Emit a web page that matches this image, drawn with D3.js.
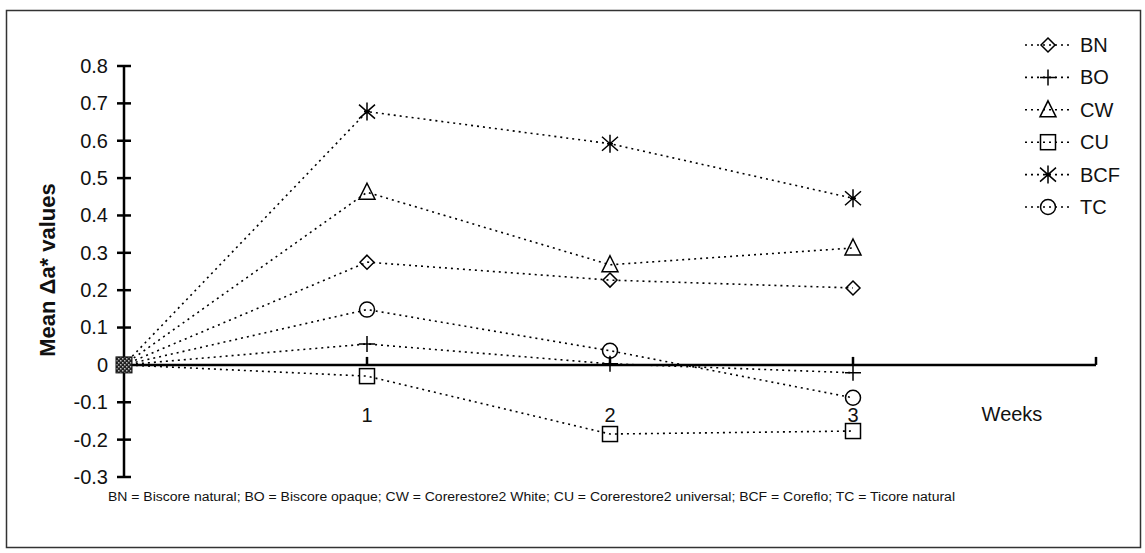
<!DOCTYPE html>
<html>
<head>
<meta charset="utf-8">
<script src="https://cdn.jsdelivr.net/npm/d3@7"></script>
<style>
  html, body { margin: 0; padding: 0; background: #fff; }
  svg { display: block; font-family: "Liberation Sans", Arial, sans-serif; }
</style>
</head>
<body>
<svg id="chart" width="1145" height="553"></svg>
<script>
// Weeks of storage and mean Δa* per material
const weeks = [0, 1, 2, 3];
const weekLabels = ["1", "2", "3"];
const seriesNames = ["BN", "BO", "CW", "CU", "BCF", "TC"];
const BN  = [0, 0.275, 0.227, 0.206];
const BO  = [0, 0.056, 0.003, -0.021];
const CW  = [0, 0.462, 0.268, 0.313];
const CU  = [0, -0.030, -0.185, -0.177];
const BCF = [0, 0.678, 0.592, 0.446];
const TC  = [0, 0.148, 0.038, -0.088];
const yTicks = [0.8, 0.7, 0.6, 0.5, 0.4, 0.3, 0.2, 0.1, 0, -0.1, -0.2, -0.3];
const yTickLabels = ["0.8", "0.7", "0.6", "0.5", "0.4", "0.3", "0.2", "0.1", "0", "-0.1", "-0.2", "-0.3"];
const footnote = "BN = Biscore natural; BO = Biscore opaque; CW = Corerestore2 White; CU = Corerestore2 universal; BCF = Coreflo; TC = Ticore natural";

const seriesValues = { BN, BO, CW, CU, BCF, TC };
const markerOf = { BN: "diamond", BO: "plus", CW: "triangle", CU: "square", BCF: "star", TC: "circle" };

const svg = d3.select("#chart");

// outer frame
svg.append("rect")
  .attr("x", 6.5).attr("y", 10.5).attr("width", 1134).attr("height", 537)
  .attr("fill", "none").attr("stroke", "#333").attr("stroke-width", 1.5);

const x = d3.scaleLinear().domain([0, 4]).range([124, 1096]);
const y = d3.scaleLinear().domain([-0.3, 0.8]).range([477, 66]);

const ink = "#000";
const textInk = "#111";

// marker drawing
function drawMarker(g, type, cx, cy) {
  const s = g.append("g").attr("transform", `translate(${cx},${cy})`)
    .attr("fill", "none").attr("stroke", ink).attr("stroke-width", 1.5);
  switch (type) {
    case "diamond":
      s.append("path").attr("d", "M0,-7L7,0L0,7L-7,0Z"); break;
    case "plus":
      s.append("path").attr("d", "M-8,0H8M0,-8V8"); break;
    case "triangle":
      s.append("path").attr("d", "M0,-9L8,7H-8Z"); break;
    case "square":
      s.append("rect").attr("x", -7.5).attr("y", -7.5).attr("width", 15).attr("height", 15); break;
    case "star":
      s.append("path").attr("d", "M-8,-7L8,7M-8,7L8,-7M0,-9V9M-3,0H3"); break;
    case "circle":
      s.append("circle").attr("r", 7.5); break;
  }
}

// y axis
const yAxis = d3.axisLeft(y).tickValues(yTicks)
  .tickFormat((d, i) => yTickLabels[i])
  .tickSize(0).tickPadding(16);
const ya = svg.append("g").attr("transform", `translate(${x(0)},0)`).call(yAxis);
ya.select(".domain").remove();
ya.selectAll("text").attr("font-size", 20).attr("fill", textInk)
  .attr("font-family", "Liberation Sans, Arial, sans-serif");
svg.append("line")
  .attr("x1", x(0)).attr("x2", x(0)).attr("y1", y(0.8)).attr("y2", y(-0.3))
  .attr("stroke", ink).attr("stroke-width", 2.5);
svg.selectAll(".ytick").data(yTicks).enter().append("line")
  .attr("x1", x(0) - 7).attr("x2", x(0) + 7)
  .attr("y1", d => y(d)).attr("y2", d => y(d))
  .attr("stroke", ink).attr("stroke-width", 2.5);

// x axis along zero
svg.append("line")
  .attr("x1", x(0)).attr("x2", x(4)).attr("y1", y(0)).attr("y2", y(0))
  .attr("stroke", ink).attr("stroke-width", 2.5);
svg.selectAll(".xtick").data([1, 2, 3, 4]).enter().append("line")
  .attr("x1", d => x(d)).attr("x2", d => x(d))
  .attr("y1", y(0) - 8).attr("y2", y(0))
  .attr("stroke", ink).attr("stroke-width", 2.5);
svg.selectAll(".xlab").data(weekLabels).enter().append("text")
  .attr("x", (d, i) => x(weeks[i + 1])).attr("y", 422)
  .attr("text-anchor", "middle").attr("font-size", 20).attr("fill", textInk)
  .text(d => d);
svg.append("text").attr("x", 1012).attr("y", 421)
  .attr("text-anchor", "middle").attr("font-size", 20).attr("fill", textInk)
  .text("Weeks");

// y axis title
svg.append("text")
  .attr("transform", `translate(55,270) rotate(-90)`)
  .attr("text-anchor", "middle").attr("font-size", 22).attr("font-weight", "bold")
  .attr("fill", textInk)
  .text("Mean Δa* values");

// series lines and markers
const line = d3.line().x((d, i) => x(weeks[i])).y(d => y(d));
seriesNames.forEach(name => {
  const vals = seriesValues[name];
  svg.append("path").datum(vals).attr("d", line)
    .attr("fill", "none").attr("stroke", ink).attr("stroke-width", 1.6)
    .attr("stroke-dasharray", "2,4");
  vals.forEach((v, i) => { if (i > 0) drawMarker(svg, markerOf[name], x(weeks[i]), y(v)); });
});

// overlapping markers at the origin
const defs = svg.append("defs");
const pat = defs.append("pattern").attr("id", "overlap").attr("width", 4).attr("height", 4)
  .attr("patternUnits", "userSpaceOnUse");
pat.append("rect").attr("width", 4).attr("height", 4).attr("fill", "#222");
pat.append("rect").attr("width", 1.5).attr("height", 1.5).attr("fill", "#bbb");
pat.append("rect").attr("x", 2).attr("y", 2).attr("width", 1.5).attr("height", 1.5).attr("fill", "#bbb");
svg.append("rect")
  .attr("x", x(0) - 8).attr("y", y(0) - 8).attr("width", 16).attr("height", 16)
  .attr("fill", "url(#overlap)").attr("stroke", "#111").attr("stroke-width", 1);

// legend
const legend = svg.append("g");
seriesNames.forEach((name, i) => {
  const ly = 45 + i * 32.4;
  legend.append("line").attr("x1", 1025).attr("x2", 1071).attr("y1", ly).attr("y2", ly)
    .attr("stroke", ink).attr("stroke-width", 1.6).attr("stroke-dasharray", "2,4");
  drawMarker(legend, markerOf[name], 1048, ly);
  legend.append("text").attr("x", 1080).attr("y", ly + 7)
    .attr("font-size", 20).attr("fill", textInk).text(name);
});

// footnote
svg.append("text").attr("x", 108).attr("y", 501)
  .attr("font-size", 12.5).attr("fill", textInk)
  .attr("textLength", 847).attr("lengthAdjust", "spacingAndGlyphs")
  .text(footnote);
</script>
</body>
</html>
